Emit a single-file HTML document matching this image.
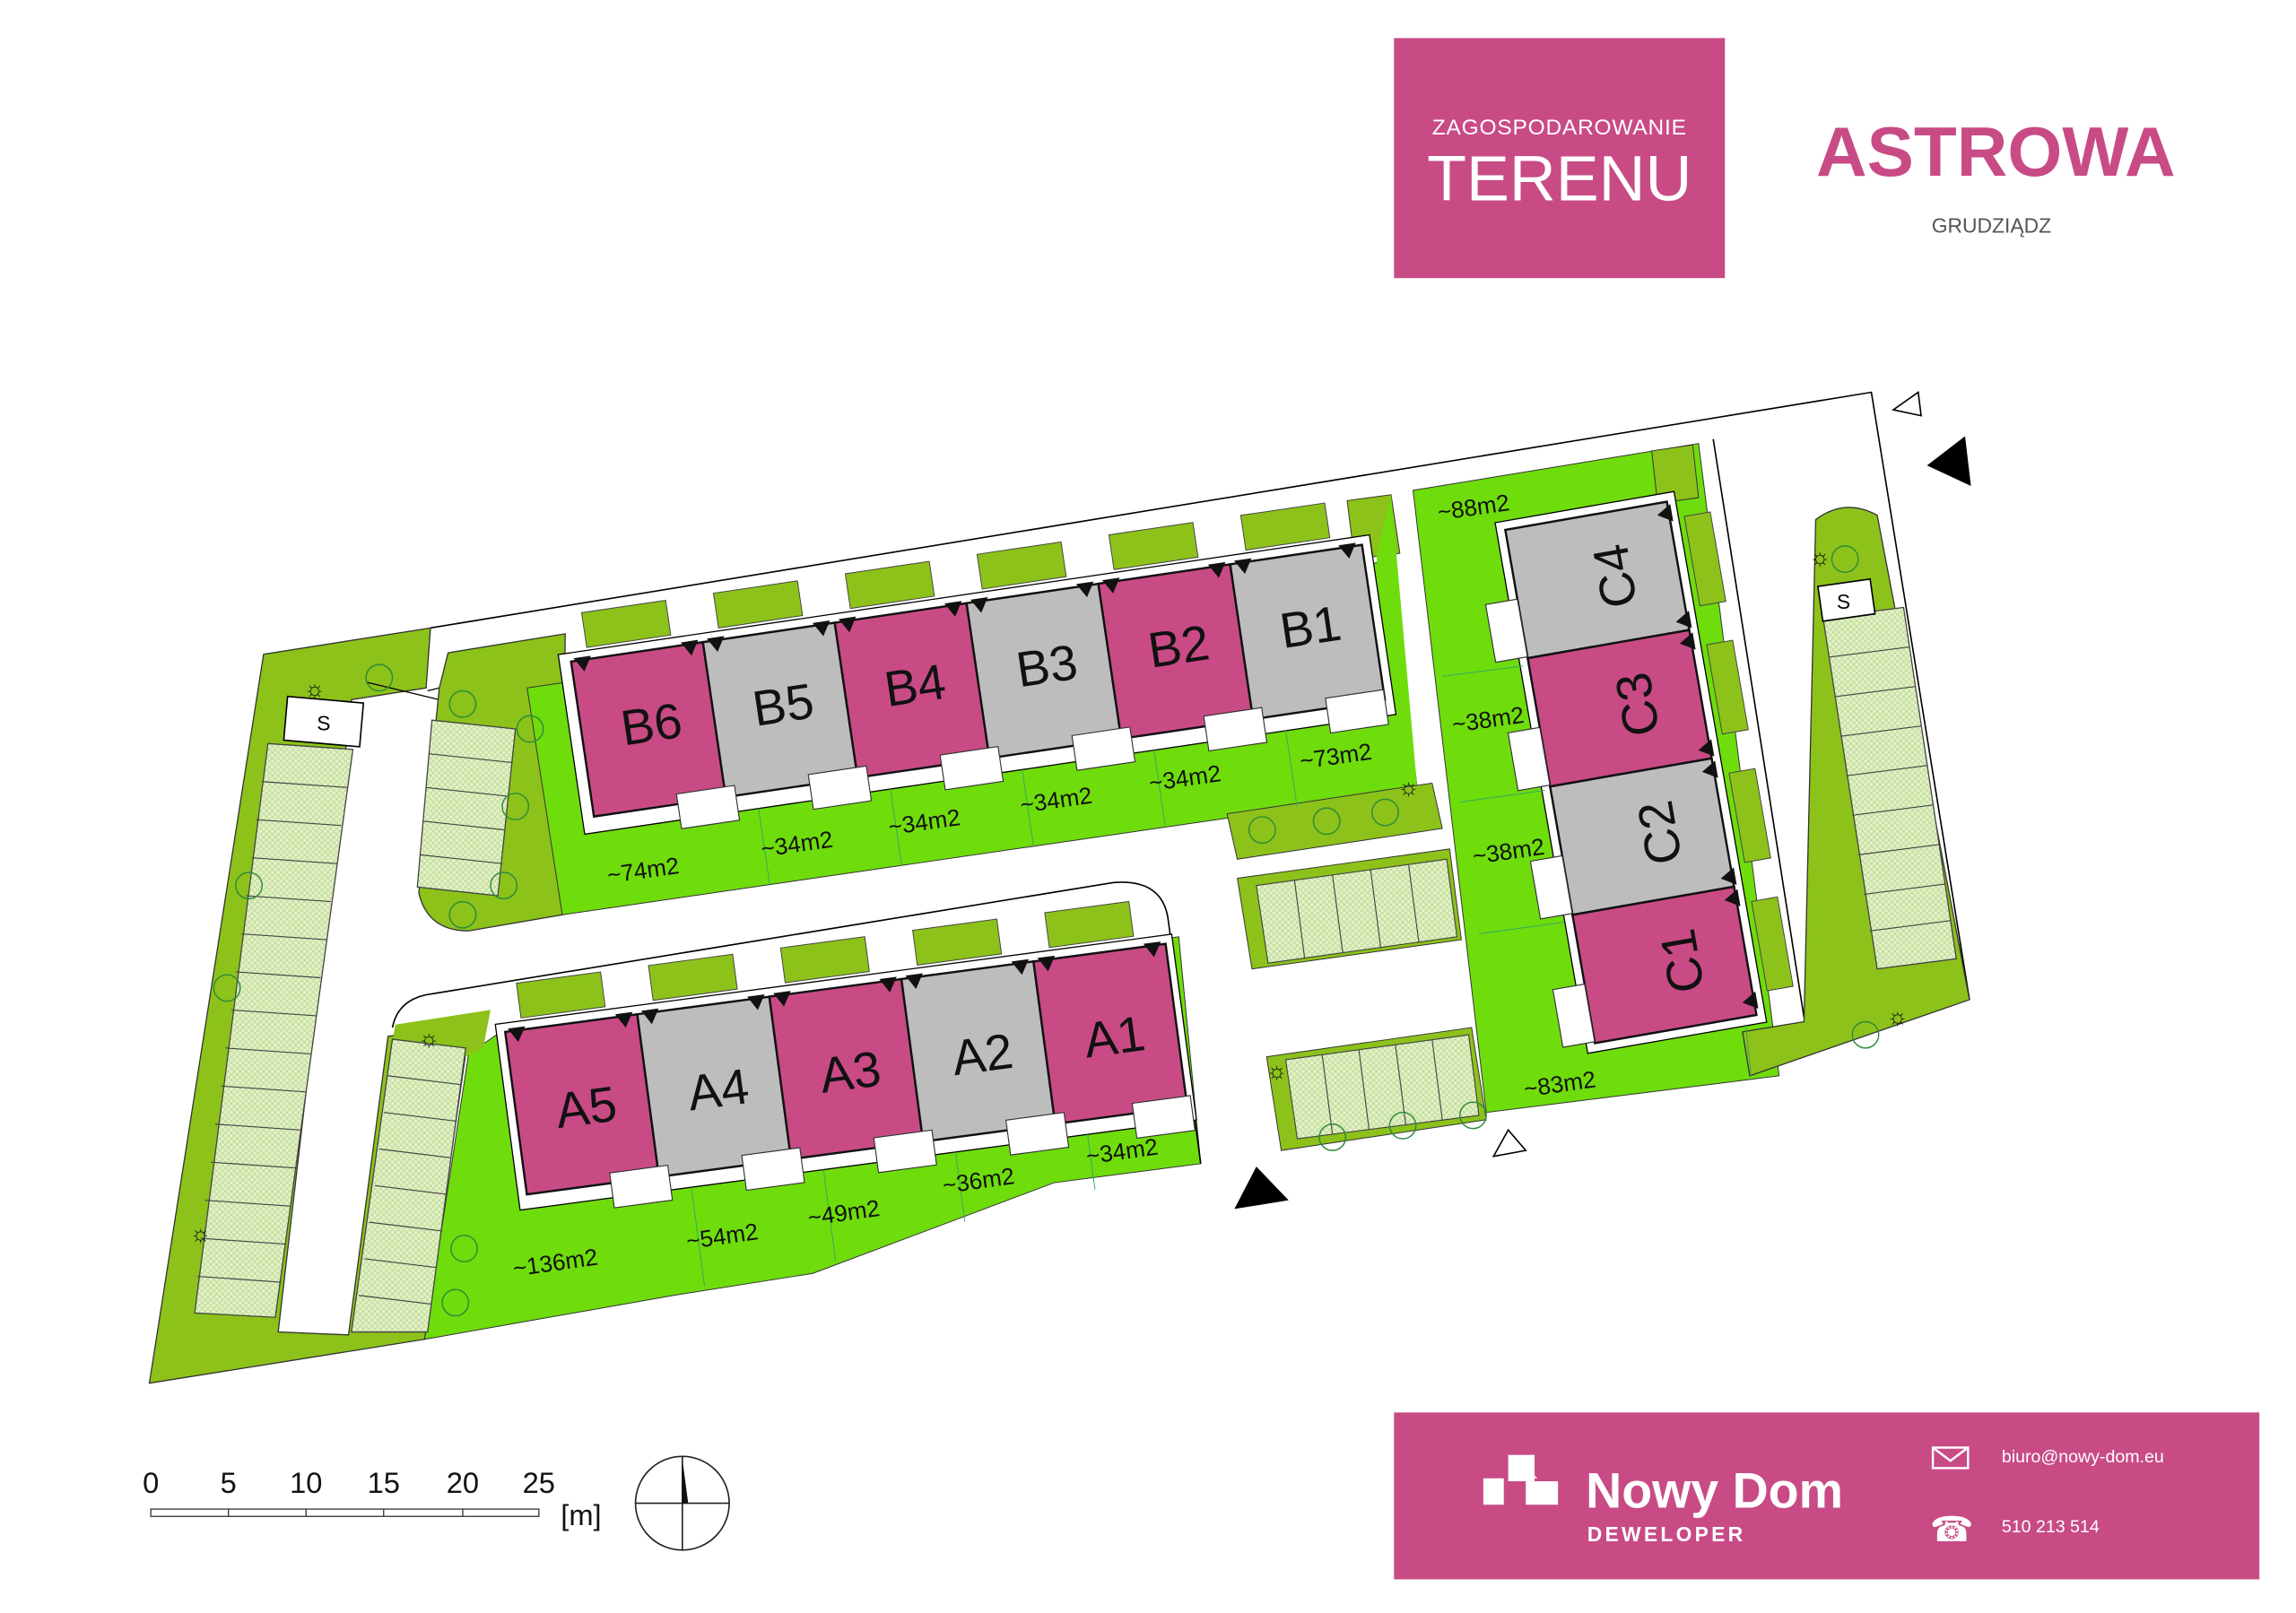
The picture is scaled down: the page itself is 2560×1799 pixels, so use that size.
<!DOCTYPE html>
<html><head><meta charset="utf-8"><style>
html,body{margin:0;padding:0;background:#fff;}
svg{display:block;}
text{font-family:"Liberation Sans",sans-serif;}
</style></head><body>
<svg width="2560" height="1799" viewBox="0 0 1568 1102" preserveAspectRatio="none" xmlns="http://www.w3.org/2000/svg">
<defs>
<pattern id="pk" width="4" height="4" patternUnits="userSpaceOnUse">
<rect width="4" height="4" fill="#e4f1c8"/><path d="M0 0L4 4M4 0L0 4" stroke="#b9d88f" stroke-width="0.5"/>
</pattern>
</defs>
<rect width="1568" height="1102" fill="#fff"/>

<path d="M294 429 L1278 268 L1345 683" fill="none" stroke="#000" stroke-width="1"/>
<path d="M1170 300 L1232 695" fill="none" stroke="#000" stroke-width="1"/>

<polygon points="102,945 180,447 294,429 291,470 240,478 190,910 238,912 265,708 320,700 318,720 290,915" fill="#8cc21a" stroke="#333" stroke-width="0.8"/>
<path d="M250,466 L300,478 M292,472 L308,468" stroke="#000" stroke-width="0.8" fill="none"/>
<path d="M306,446 L386,433 L384,625 L320,636 Q292,636 286,610 L300,470 Z" fill="#8cc21a" stroke="#333" stroke-width="0.8"/>
<polygon points="360,470 950,383 968,540 384,625" fill="#6fdc0c" stroke="#333" stroke-width="0.6"/>
<polygon points="920,342 950,338 956,378 925,382" fill="#8cc21a" stroke="#333" stroke-width="0.6"/>
<polygon points="940,380 950,338 968,540 955,545" fill="#6fdc0c"/>
<polygon points="838,556 978,535 985,566 845,587" fill="#8cc21a" stroke="#333" stroke-width="0.6"/>
<polygon points="320,720 345,703 805,640 820,795 720,808 555,870 460,885 290,915" fill="#6fdc0c" stroke="#333" stroke-width="0.6"/>
<polygon points="270,700 335,690 330,716 318,722 268,712" fill="#8cc21a"/>
<path d="M268,702 Q272,682 295,679 L760,603 Q795,600 798,630 L820,795" fill="none" stroke="#000" stroke-width="1"/>
<polygon points="965,335 1160,303 1215,735 1015,760" fill="#6fdc0c" stroke="#333" stroke-width="0.6"/>
<polygon points="1128,308 1156,304 1160,340 1132,344" fill="#8cc21a" stroke="#333" stroke-width="0.6"/>
<path d="M1240,355 Q1260,340 1282,352 L1345,683 L1195,735 L1190,705 L1232,698 Z" fill="#8cc21a" stroke="#333" stroke-width="0.8"/>
<polygon points="1245,422 1300,415 1336,655 1282,662" fill="url(#pk)" stroke="#444" stroke-width="0.8"/>
<g stroke="#444" stroke-width="0.7">
<line x1="1249" y1="449" x2="1304" y2="442"/><line x1="1253" y1="476" x2="1308" y2="469"/><line x1="1257" y1="503" x2="1312" y2="496"/><line x1="1261" y1="530" x2="1316" y2="523"/><line x1="1265" y1="557" x2="1320" y2="550"/><line x1="1269" y1="584" x2="1324" y2="577"/><line x1="1273" y1="611" x2="1328" y2="604"/><line x1="1277" y1="636" x2="1332" y2="629"/>
</g>
<rect x="1243" y="398" width="36" height="24" fill="#fff" stroke="#000" stroke-width="1" transform="rotate(-8 1261 410)"/>
<text x="1259" y="416" font-size="14" text-anchor="middle">S</text>

<polygon points="183,508 241,512 188,900 133,897" fill="url(#pk)" stroke="#444" stroke-width="0.8"/>
<g stroke="#444" stroke-width="0.7">
<line x1="179" y1="534" x2="237" y2="538"/><line x1="175" y1="560" x2="233" y2="564"/><line x1="172" y1="586" x2="230" y2="590"/><line x1="168" y1="612" x2="226" y2="616"/><line x1="165" y1="638" x2="223" y2="642"/><line x1="161" y1="664" x2="219" y2="668"/><line x1="158" y1="690" x2="216" y2="694"/><line x1="154" y1="716" x2="212" y2="720"/><line x1="151" y1="742" x2="209" y2="746"/><line x1="147" y1="768" x2="205" y2="772"/><line x1="144" y1="794" x2="202" y2="798"/><line x1="140" y1="820" x2="198" y2="824"/><line x1="137" y1="846" x2="195" y2="850"/><line x1="135" y1="872" x2="192" y2="876"/>
</g>
<rect x="195" y="478" width="52" height="30" fill="#fff" stroke="#000" stroke-width="1" transform="rotate(5 221 493)"/>
<text x="221" y="499" font-size="14" text-anchor="middle">S</text>
<polygon points="295,492 352,498 340,612 285,606" fill="url(#pk)" stroke="#444" stroke-width="0.8"/>
<g stroke="#444" stroke-width="0.7"><line x1="293" y1="515" x2="350" y2="521"/><line x1="291" y1="538" x2="347" y2="544"/><line x1="289" y1="561" x2="345" y2="567"/><line x1="287" y1="584" x2="343" y2="590"/></g>
<polygon points="268,710 318,716 292,910 240,910" fill="url(#pk)" stroke="#444" stroke-width="0.8"/>
<g stroke="#444" stroke-width="0.7"><line x1="265" y1="735" x2="315" y2="741"/><line x1="262" y1="760" x2="312" y2="766"/><line x1="259" y1="785" x2="308" y2="791"/><line x1="256" y1="810" x2="305" y2="816"/><line x1="252" y1="835" x2="302" y2="841"/><line x1="249" y1="860" x2="298" y2="866"/><line x1="245" y1="885" x2="295" y2="891"/></g>

<polygon points="845,600 990,580 998,642 855,662" fill="#8cc21a" stroke="#333" stroke-width="0.6"/>
<polygon points="858,605 988,587 995,640 866,658" fill="url(#pk)" stroke="#444" stroke-width="0.7"/>
<g stroke="#444" stroke-width="0.7"><line x1="884" y1="601" x2="891" y2="655"/><line x1="910" y1="598" x2="917" y2="651"/><line x1="936" y1="594" x2="943" y2="648"/><line x1="962" y1="591" x2="969" y2="644"/></g>
<polygon points="865,722 1005,702 1015,765 875,786" fill="#8cc21a" stroke="#333" stroke-width="0.6"/>
<polygon points="878,724 1003,707 1010,762 886,778" fill="url(#pk)" stroke="#444" stroke-width="0.7"/>
<g stroke="#444" stroke-width="0.7"><line x1="903" y1="721" x2="910" y2="775"/><line x1="928" y1="717" x2="935" y2="772"/><line x1="953" y1="714" x2="960" y2="768"/><line x1="978" y1="710" x2="985" y2="765"/></g>

<g transform="translate(390,452) rotate(-8.4)">
<g fill="#8cc21a" stroke="#444" stroke-width="0.6">
<rect x="12" y="-32" width="58" height="24"/><rect x="103" y="-32" width="58" height="24"/><rect x="194" y="-32" width="58" height="24"/><rect x="285" y="-32" width="58" height="24"/><rect x="376" y="-32" width="58" height="24"/><rect x="467" y="-32" width="58" height="24"/>
</g>
<rect x="-8" y="-6" width="560" height="124" fill="#fff" stroke="#000" stroke-width="0.8"/>
<g stroke="#111" stroke-width="1.5">
<rect x="0" y="0" width="91" height="107" fill="#c84b86"/>
<rect x="91" y="0" width="91" height="107" fill="#bdbdbd"/>
<rect x="182" y="0" width="91" height="107" fill="#c84b86"/>
<rect x="273" y="0" width="91" height="107" fill="#bdbdbd"/>
<rect x="364" y="0" width="91" height="107" fill="#c84b86"/>
<rect x="455" y="0" width="91" height="107" fill="#bdbdbd"/>
</g>
<g fill="#fff" stroke="#333" stroke-width="0.7">
<rect x="58" y="100" width="40" height="24"/><rect x="149" y="100" width="40" height="24"/><rect x="240" y="100" width="40" height="24"/><rect x="331" y="100" width="40" height="24"/><rect x="422" y="100" width="40" height="24"/><rect x="506" y="100" width="40" height="24"/>
</g>
<g font-size="34" text-anchor="middle" fill="#111">
<text x="48" y="62">B6</text><text x="139" y="62">B5</text><text x="230" y="62">B4</text><text x="321" y="62">B3</text><text x="412" y="62">B2</text><text x="503" y="62">B1</text>
</g>
<g fill="#111">
<polygon points="2,-2 14,-2 8,8"/><polygon points="76,-2 88,-2 82,8"/><polygon points="94,-2 106,-2 100,8"/><polygon points="167,-2 179,-2 173,8"/><polygon points="185,-2 197,-2 191,8"/><polygon points="258,-2 270,-2 264,8"/><polygon points="276,-2 288,-2 282,8"/><polygon points="349,-2 361,-2 355,8"/><polygon points="367,-2 379,-2 373,8"/><polygon points="440,-2 452,-2 446,8"/><polygon points="458,-2 470,-2 464,8"/><polygon points="530,-2 542,-2 536,8"/>
</g>
<g stroke="#3a6" stroke-width="0.6"><line x1="112" y1="118" x2="112" y2="170"/><line x1="203" y1="118" x2="203" y2="170"/><line x1="294" y1="118" x2="294" y2="170"/><line x1="385" y1="118" x2="385" y2="170"/><line x1="476" y1="118" x2="476" y2="170"/></g>
</g>

<g transform="translate(345,705) rotate(-7.6)">
<g fill="#8cc21a" stroke="#444" stroke-width="0.6">
<rect x="12" y="-32" width="58" height="24"/><rect x="103" y="-32" width="58" height="24"/><rect x="194" y="-32" width="58" height="24"/><rect x="285" y="-32" width="58" height="24"/><rect x="376" y="-32" width="58" height="24"/>
</g>
<rect x="-6" y="-6" width="466" height="128" fill="#fff" stroke="#000" stroke-width="0.8"/>
<g stroke="#111" stroke-width="1.5">
<rect x="0" y="0" width="91" height="112" fill="#c84b86"/>
<rect x="91" y="0" width="91" height="112" fill="#bdbdbd"/>
<rect x="182" y="0" width="91" height="112" fill="#c84b86"/>
<rect x="273" y="0" width="91" height="112" fill="#bdbdbd"/>
<rect x="364" y="0" width="91" height="112" fill="#c84b86"/>
</g>
<g fill="#fff" stroke="#333" stroke-width="0.7">
<rect x="58" y="105" width="40" height="24"/><rect x="149" y="105" width="40" height="24"/><rect x="240" y="105" width="40" height="24"/><rect x="331" y="105" width="40" height="24"/><rect x="418" y="105" width="40" height="24"/>
</g>
<g font-size="34" text-anchor="middle" fill="#111">
<text x="48" y="70">A5</text><text x="139" y="70">A4</text><text x="230" y="70">A3</text><text x="321" y="70">A2</text><text x="412" y="70">A1</text>
</g>
<g fill="#111">
<polygon points="2,-2 14,-2 8,8"/><polygon points="76,-2 88,-2 82,8"/><polygon points="94,-2 106,-2 100,8"/><polygon points="167,-2 179,-2 173,8"/><polygon points="185,-2 197,-2 191,8"/><polygon points="258,-2 270,-2 264,8"/><polygon points="276,-2 288,-2 282,8"/><polygon points="349,-2 361,-2 355,8"/><polygon points="367,-2 379,-2 373,8"/><polygon points="440,-2 452,-2 446,8"/>
</g>
<g stroke="#3a6" stroke-width="0.6"><line x1="112" y1="122" x2="112" y2="190"/><line x1="203" y1="122" x2="203" y2="185"/><line x1="294" y1="122" x2="294" y2="170"/><line x1="385" y1="122" x2="385" y2="160"/></g>
</g>

<g transform="translate(1028,362) rotate(-9.9)">
<g fill="#8cc21a" stroke="#444" stroke-width="0.6">
<rect x="122" y="12" width="18" height="62"/><rect x="122" y="101" width="18" height="62"/><rect x="122" y="190" width="18" height="62"/><rect x="122" y="279" width="18" height="62"/>
</g>
<rect x="-6" y="-6" width="124" height="368" fill="#fff" stroke="#000" stroke-width="0.8"/>
<g stroke="#111" stroke-width="1.5">
<rect x="0" y="0" width="112" height="89" fill="#bdbdbd"/>
<rect x="0" y="89" width="112" height="89" fill="#c84b86"/>
<rect x="0" y="178" width="112" height="89" fill="#bdbdbd"/>
<rect x="0" y="267" width="112" height="89" fill="#c84b86"/>
</g>
<g fill="#fff" stroke="#333" stroke-width="0.7">
<rect x="-22" y="48" width="22" height="40"/><rect x="-22" y="137" width="22" height="40"/><rect x="-22" y="226" width="22" height="40"/><rect x="-22" y="315" width="22" height="40"/>
</g>
<g font-size="34" text-anchor="middle" fill="#111">
<text transform="translate(68,44) rotate(-90)" y="12">C4</text>
<text transform="translate(68,133) rotate(-90)" y="12">C3</text>
<text transform="translate(68,222) rotate(-90)" y="12">C2</text>
<text transform="translate(68,311) rotate(-90)" y="12">C1</text>
</g>
<g fill="#111">
<polygon points="114,2 114,14 104,8"/><polygon points="114,76 114,88 104,82"/><polygon points="114,91 114,103 104,97"/><polygon points="114,165 114,177 104,171"/><polygon points="114,180 114,192 104,186"/><polygon points="114,254 114,266 104,260"/><polygon points="114,269 114,281 104,275"/><polygon points="114,340 114,352 104,346"/>
</g>
</g>
<g stroke="#3a6" stroke-width="0.6"><line x1="985" y1="462" x2="1040" y2="455"/><line x1="997" y1="548" x2="1055" y2="540"/><line x1="1010" y1="638" x2="1068" y2="630"/><line x1="1192" y1="700" x2="1196" y2="735"/></g>

<g font-size="16" fill="#111" text-anchor="middle">
<text transform="translate(440,600) rotate(-8)">~74m2</text>
<text transform="translate(545,582) rotate(-8)">~34m2</text>
<text transform="translate(632,567) rotate(-8)">~34m2</text>
<text transform="translate(722,552) rotate(-8)">~34m2</text>
<text transform="translate(810,537) rotate(-8)">~34m2</text>
<text transform="translate(913,522) rotate(-8)">~73m2</text>
<text transform="translate(380,868) rotate(-8)">~136m2</text>
<text transform="translate(494,850) rotate(-8)">~54m2</text>
<text transform="translate(577,834) rotate(-8)">~49m2</text>
<text transform="translate(669,812) rotate(-8)">~36m2</text>
<text transform="translate(767,792) rotate(-8)">~34m2</text>
<text transform="translate(1007,352) rotate(-8)">~88m2</text>
<text transform="translate(1017,497) rotate(-8)">~38m2</text>
<text transform="translate(1031,587) rotate(-8)">~38m2</text>
<text transform="translate(1066,746) rotate(-8)">~83m2</text>
</g>

<g fill="none" stroke="#2e8b3a" stroke-width="0.9">
<circle cx="259" cy="463" r="9"/><circle cx="316" cy="481" r="9"/><circle cx="362" cy="498" r="9"/><circle cx="352" cy="551" r="9"/><circle cx="344" cy="605" r="9"/><circle cx="316" cy="625" r="9"/>
<circle cx="170" cy="605" r="9"/><circle cx="155" cy="675" r="9"/><circle cx="317" cy="853" r="9"/><circle cx="311" cy="890" r="9"/>
<circle cx="862" cy="567" r="9"/><circle cx="906" cy="561" r="9"/><circle cx="946" cy="555" r="9"/>
<circle cx="910" cy="777" r="9"/><circle cx="958" cy="769" r="9"/><circle cx="1006" cy="762" r="9"/>
<circle cx="1260" cy="382" r="9"/><circle cx="1274" cy="707" r="9"/>
</g>
<g font-size="16" fill="#111" text-anchor="middle">
<text x="215" y="476">☼</text><text x="293" y="715">☼</text><text x="137" y="848">☼</text><text x="962" y="543">☼</text><text x="872" y="737">☼</text><text x="1243" y="386">☼</text><text x="1296" y="700">☼</text>
</g>

<polygon points="1293,280 1310,268 1312,284" fill="#fff" stroke="#000" stroke-width="1"/>
<polygon points="1316,318 1342,298 1346,332" fill="#000"/>
<polygon points="843,826 880,820 858,797" fill="#000"/>
<polygon points="1020,790 1042,786 1030,772" fill="#fff" stroke="#000" stroke-width="1"/>

<rect x="952" y="26" width="226" height="164" fill="#c84b86"/>
<text x="1065" y="92" font-size="15" fill="#fff" text-anchor="middle" letter-spacing="0.5">ZAGOSPODAROWANIE</text>
<text x="1065" y="137" font-size="44" fill="#fff" text-anchor="middle">TERENU</text>
<text x="1363" y="120" font-size="48" font-weight="bold" fill="#c84b86" text-anchor="middle">ASTROWA</text>
<text x="1360" y="159" font-size="14" fill="#555" text-anchor="middle">GRUDZIĄDZ</text>

<rect x="952" y="965" width="591" height="114" fill="#c84b86"/>
<g fill="#fff">
<rect x="1013" y="1010" width="14" height="18"/><rect x="1030" y="994" width="18" height="18"/><rect x="1042" y="1012" width="22" height="16"/><polygon points="1030,1010 1040,1000 1050,1010"/>
</g>
<text x="1083" y="1030" font-size="34" font-weight="bold" fill="#fff">Nowy Dom</text>
<text x="1084" y="1053" font-size="14" font-weight="bold" fill="#fff" letter-spacing="2">DEWELOPER</text>
<rect x="1320" y="989" width="24" height="14" fill="none" stroke="#fff" stroke-width="1.5"/>
<path d="M1320 989 L1332 998 L1344 989" fill="none" stroke="#fff" stroke-width="1.5"/>
<text x="1367" y="999" font-size="12" fill="#fff">biuro@nowy-dom.eu</text>
<text x="1318" y="1053" font-size="24" fill="#fff">☎</text>
<text x="1367" y="1047" font-size="12" fill="#fff">510 213 514</text>

<g font-size="20" fill="#111" text-anchor="middle">
<text x="103" y="1020">0</text><text x="156" y="1020">5</text><text x="209" y="1020">10</text><text x="262" y="1020">15</text><text x="316" y="1020">20</text><text x="368" y="1020">25</text>
</g>
<rect x="103" y="1031" width="265" height="5" fill="#fff" stroke="#333" stroke-width="0.8"/>
<g stroke="#333" stroke-width="0.8"><line x1="156" y1="1031" x2="156" y2="1036"/><line x1="209" y1="1031" x2="209" y2="1036"/><line x1="262" y1="1031" x2="262" y2="1036"/><line x1="316" y1="1031" x2="316" y2="1036"/></g>
<text x="383" y="1042" font-size="20" fill="#111">[m]</text>
<circle cx="466" cy="1027" r="32" fill="none" stroke="#222" stroke-width="1"/>
<line x1="434" y1="1027" x2="498" y2="1027" stroke="#222" stroke-width="1"/>
<line x1="466" y1="995" x2="466" y2="1059" stroke="#222" stroke-width="1"/>
<polygon points="466,997 470,1027 466,1027" fill="#111"/>
</svg>
</body></html>
